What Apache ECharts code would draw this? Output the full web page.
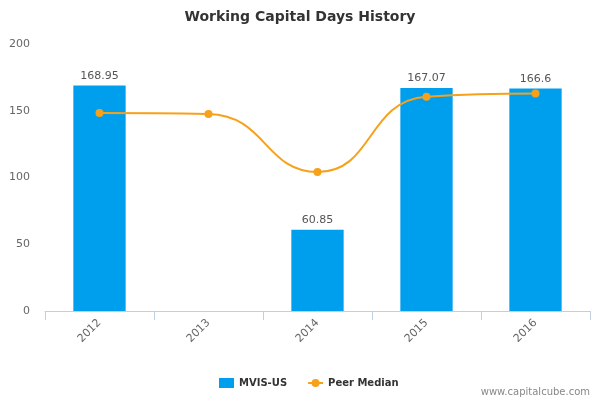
<!DOCTYPE html>
<html><head><meta charset="utf-8">
<script src="https://cdn.jsdelivr.net/npm/echarts@6/dist/echarts.min.js"></script>
<style>html,body{margin:0;padding:0;background:#fff}#c{width:600px;height:400px}</style>
</head><body><div id="c"></div>
<script>
const categories = ['2012','2013','2014','2015','2016'];
const companyValues = [168.95, null, 60.85, 167.07, 166.6];
const peerMedian = [148.3, 147.5, 104.1, 160.5, 162.9];
const yTicks = [0, 50, 100, 150, 200];

const chart = echarts.init(document.getElementById('c'), null, {renderer:'canvas'});
chart.setOption({
  animation: false,
  title: {
    text: 'Working Capital Days History', left: 'center', top: 5,
    textStyle: {fontFamily: 'DejaVu Sans', fontSize: 14, fontWeight: 'bold', color: '#333'}
  },
  graphic: [{
    type: 'text', right: 10, top: 387,
    style: {text: 'www.capitalcube.com', fontFamily: 'DejaVu Sans', fontSize: 10, fill: '#888'}
  }],
  legend: {
    top: 373, left: 214,
    itemWidth: 15, itemHeight: 10, itemGap: 20,
    textStyle: {fontFamily: 'DejaVu Sans', fontSize: 10, fontWeight: 'bold', color: '#333'},
    data: [{name: 'MVIS-US', icon: 'rect'}, {name: 'Peer Median'}]
  },
  grid: {left: 45, right: 10, top: 44, bottom: 89},
  xAxis: {
    type: 'category', data: categories,
    axisLine: {lineStyle: {color: '#c0d0e0'}},
    axisTick: {show: true, length: 9, alignWithLabel: false, lineStyle: {color: '#c0d0e0'}},
    axisLabel: {rotate: 45, color: '#666', fontFamily: 'DejaVu Sans', fontSize: 11, margin: 10}
  },
  yAxis: {
    type: 'value', min: 0, max: 200, interval: 50,
    splitLine: {show: false}, axisLine: {show: false}, axisTick: {show: false},
    axisLabel: {color: '#666', fontFamily: 'DejaVu Sans', fontSize: 11, margin: 15,
      customValues: yTicks}
  },
  series: [{
    name: 'MVIS-US', type: 'bar', data: companyValues, barWidth: '48%',
    itemStyle: {color: '#009fee'},
    label: {show: true, position: 'top', color: '#555', fontFamily: 'DejaVu Sans', fontSize: 11, distance: 4}
  }, {
    name: 'Peer Median', type: 'line', data: peerMedian, smooth: 0.5,
    symbol: 'circle', symbolSize: 8,
    itemStyle: {color: '#f7a11a'}, lineStyle: {color: '#f7a11a', width: 2}
  }]
});
</script></body></html>
